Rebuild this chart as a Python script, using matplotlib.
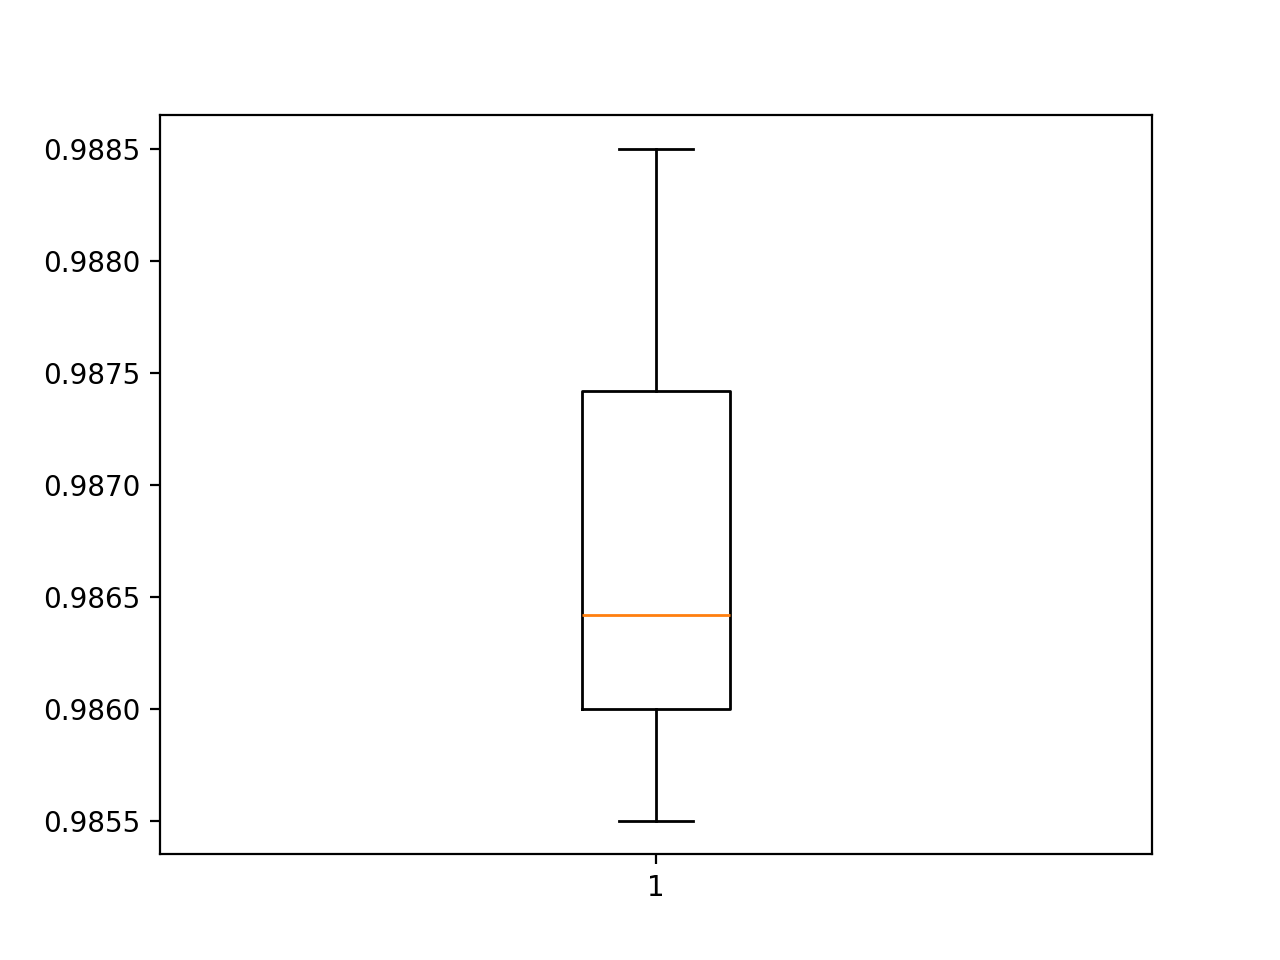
import matplotlib
matplotlib.use("Agg")
import matplotlib.pyplot as plt

# cross-validation scores
scores = [0.9855, 0.9860, 0.98642, 0.98742, 0.9885]

fig, ax = plt.subplots(figsize=(6.4, 4.8), dpi=200)
ax.boxplot(scores)

plt.savefig("out.png", dpi=200)
plt.close()
